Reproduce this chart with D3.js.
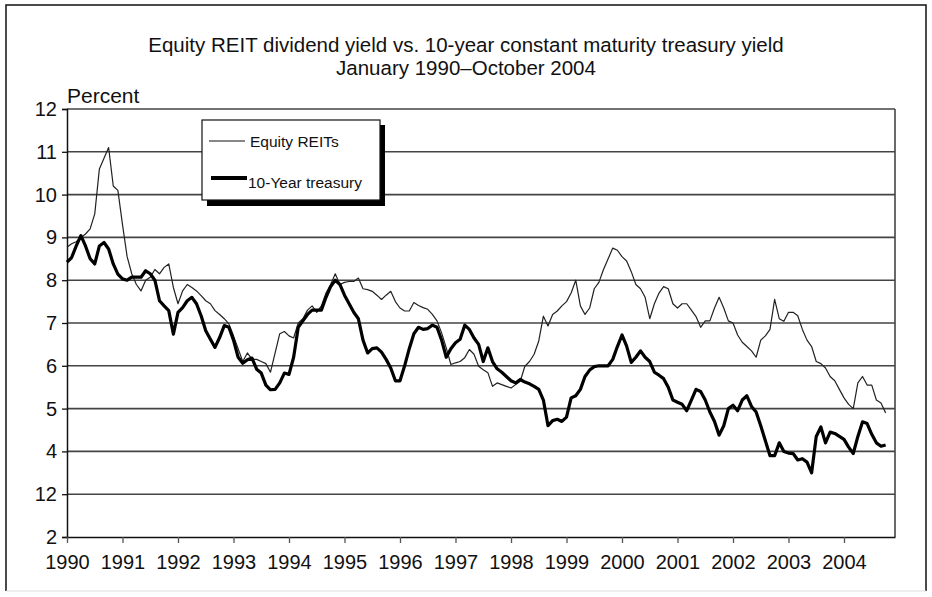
<!DOCTYPE html>
<html>
<head>
<meta charset="utf-8">
<script src="https://cdn.jsdelivr.net/npm/d3@7"></script>
<style>
  body { margin: 0; background: #fff; }
  svg { display: block; font-family: "Liberation Sans", Arial, sans-serif; }
</style>
</head>
<body>
<script>
// monthly values, Jan 1990 - Oct 2004
const startYear = 1990;

const reitYield = [
  8.77, 8.85, 8.9, 9.0, 9.08, 9.2, 9.55, 10.6, 10.85, 11.1, 10.2, 10.1,
  9.3, 8.55, 8.15, 7.9, 7.75, 8.0, 8.07, 8.25, 8.15, 8.3, 8.38, 7.83,
  7.45, 7.75, 7.9, 7.83, 7.75, 7.64, 7.52, 7.45, 7.29, 7.2, 7.1, 6.98,
  6.7, 6.4, 6.1, 6.3, 6.15, 6.15, 6.1, 6.05, 5.85, 6.3, 6.75, 6.8,
  6.7, 6.65, 7.0, 7.1, 7.3, 7.4, 7.25, 7.4, 7.7, 7.9, 8.15, 7.9,
  7.95, 7.97, 7.97, 8.05, 7.8, 7.78, 7.74, 7.65, 7.55, 7.65, 7.74, 7.5,
  7.35, 7.28, 7.28, 7.48, 7.41, 7.36, 7.32, 7.2, 7.05, 6.77, 6.42, 6.03,
  6.07, 6.1, 6.19, 6.38, 6.27, 5.99, 5.91, 5.84, 5.52, 5.6, 5.56, 5.52,
  5.48, 5.56, 5.64, 5.99, 6.1, 6.27, 6.58, 7.16, 6.93, 7.2, 7.28, 7.4,
  7.5, 7.7, 8.0, 7.4, 7.2, 7.35, 7.8, 7.95, 8.25, 8.5, 8.75, 8.7,
  8.55, 8.45, 8.2, 7.9, 7.8, 7.6, 7.1, 7.45, 7.7, 7.85, 7.8, 7.45,
  7.35, 7.45, 7.45, 7.3, 7.15, 6.9, 7.05, 7.05, 7.35, 7.6, 7.35, 7.05,
  7.0, 6.72, 6.55, 6.45, 6.35, 6.2, 6.6, 6.7, 6.85, 7.55, 7.1, 7.04,
  7.25, 7.25, 7.17, 6.85, 6.6, 6.45, 6.1, 6.05, 5.95, 5.75, 5.65, 5.45,
  5.25, 5.1, 5.0, 5.6, 5.75, 5.55, 5.55, 5.2, 5.13, 4.9
];

const treasuryYield = [
  8.42, 8.53, 8.8, 9.04, 8.8, 8.5, 8.38, 8.8, 8.88, 8.73, 8.38, 8.14,
  8.03, 8.0, 8.07, 8.07, 8.07, 8.22, 8.15, 8.0, 7.52, 7.4, 7.29, 6.74,
  7.25, 7.36, 7.52, 7.6, 7.45, 7.17, 6.82, 6.62, 6.43, 6.66, 6.94, 6.9,
  6.6, 6.2, 6.06, 6.14, 6.18, 5.92, 5.83, 5.55, 5.44, 5.45, 5.6, 5.83,
  5.8, 6.2, 6.9, 7.05, 7.2, 7.3, 7.3, 7.3, 7.6, 7.85, 8.0, 7.9,
  7.65, 7.45, 7.25, 7.1, 6.6, 6.3, 6.4, 6.42, 6.32, 6.15, 5.95, 5.65,
  5.65, 6.0, 6.4, 6.75, 6.9, 6.85, 6.87, 6.95, 6.9, 6.6, 6.2, 6.4,
  6.54, 6.62, 6.95, 6.85, 6.65, 6.5, 6.1, 6.42, 6.1, 5.93, 5.85, 5.75,
  5.65, 5.6, 5.68, 5.62, 5.58, 5.52, 5.45, 5.2, 4.6, 4.72, 4.75, 4.7,
  4.8, 5.25, 5.3, 5.45, 5.75, 5.9, 5.98, 6.0, 6.0, 6.0, 6.15, 6.45,
  6.72, 6.46, 6.08, 6.2, 6.35, 6.2, 6.1, 5.85, 5.78, 5.7, 5.5, 5.2,
  5.15, 5.1, 4.95, 5.2, 5.45, 5.4, 5.2, 4.92, 4.7, 4.38, 4.6, 5.0,
  5.08, 4.95, 5.2, 5.3, 5.05, 4.92, 4.6, 4.25, 3.9, 3.9, 4.2, 4.0,
  3.96, 3.95, 3.8, 3.83, 3.75, 3.5, 4.35, 4.57, 4.2, 4.45, 4.42, 4.35,
  4.28, 4.1, 3.95, 4.35, 4.69, 4.65, 4.4, 4.2, 4.12, 4.15
];

const yearTicks = [1990, 1991, 1992, 1993, 1994, 1995, 1996, 1997, 1998, 1999, 2000, 2001, 2002, 2003, 2004];
const yTickValues = [2, 3, 4, 5, 6, 7, 8, 9, 10, 11, 12];
const yTickLabels = ["2", "12", "4", "5", "6", "7", "8", "9", "10", "11", "12"];
const seriesNames = ["Equity REITs", "10-Year treasury"];

const W = 932, H = 597;
const plotLeft = 67, plotRight = 895, plotTop = 109, plotBottom = 537;

const svg = d3.select("body").append("svg")
  .attr("width", W)
  .attr("height", H);

svg.append("rect").attr("width", W).attr("height", H).attr("fill", "#fff");

// outer frame
svg.append("path")
  .attr("d", `M6,591 L6,5 L926,5 L926,591`)
  .attr("fill", "none").attr("stroke", "#111").attr("stroke-width", 1.5);
svg.append("line")
  .attr("x1", 6).attr("x2", 926).attr("y1", 591).attr("y2", 591)
  .attr("stroke", "#ddd").attr("stroke-width", 1);

const x = d3.scaleLinear().domain([1990, 1990 + (plotRight - plotLeft) / 55.5]).range([plotLeft, plotRight]);
const y = d3.scaleLinear().domain([2, 12]).range([plotBottom, plotTop]);

// title
const title = svg.append("text")
  .attr("text-anchor", "middle")
  .attr("font-size", 20.5)
  .attr("fill", "#111");
title.append("tspan").attr("x", 466).attr("y", 52)
  .text("Equity REIT dividend yield vs. 10-year constant maturity treasury yield");
title.append("tspan").attr("x", 466).attr("y", 75)
  .text("January 1990\u2013October 2004");

svg.append("text")
  .attr("x", 67).attr("y", 103)
  .attr("font-size", 21)
  .attr("fill", "#111")
  .text("Percent");

// gridlines
svg.append("g")
  .selectAll("line")
  .data(yTickValues.filter(d => d > 2))
  .join("line")
  .attr("x1", plotLeft).attr("x2", plotRight)
  .attr("y1", d => y(d)).attr("y2", d => y(d))
  .attr("stroke", "#444").attr("stroke-width", 1.6);

// right border of plot
svg.append("line")
  .attr("x1", plotRight).attr("x2", plotRight).attr("y1", plotTop).attr("y2", plotBottom)
  .attr("stroke", "#444").attr("stroke-width", 1.6);

// axes
const yAxis = svg.append("g")
  .attr("transform", `translate(${plotLeft},0)`)
  .call(d3.axisLeft(y).tickValues(yTickValues).tickFormat((d, i) => yTickLabels[i]).tickSize(5).tickPadding(5));
yAxis.select(".domain").attr("stroke", "#111").attr("stroke-width", 1.5);
yAxis.selectAll(".tick line").attr("stroke", "#111").attr("stroke-width", 1.3);
yAxis.selectAll("text").attr("font-size", 20).attr("font-family", "Liberation Sans, Arial, sans-serif").attr("fill", "#111");

const xAxis = svg.append("g")
  .attr("transform", `translate(0,${plotBottom})`)
  .call(d3.axisBottom(x).tickValues(yearTicks).tickFormat(d3.format("d")).tickSize(6).tickSizeOuter(0).tickPadding(12));
xAxis.select(".domain").attr("stroke", "#111").attr("stroke-width", 1.5);
xAxis.selectAll(".tick line").attr("stroke", "#555").attr("stroke-width", 1.3);
xAxis.selectAll("text").attr("font-size", 20).attr("font-family", "Liberation Sans, Arial, sans-serif").attr("fill", "#111");

// lines
const line = d3.line()
  .x((d, i) => x(startYear + i / 12))
  .y(d => y(d));

svg.append("path")
  .datum(reitYield)
  .attr("d", line)
  .attr("fill", "none")
  .attr("stroke", "#222")
  .attr("stroke-width", 1.2)
  .attr("stroke-linejoin", "round");

svg.append("path")
  .datum(treasuryYield)
  .attr("d", line)
  .attr("fill", "none")
  .attr("stroke", "#000")
  .attr("stroke-width", 3.2)
  .attr("stroke-linejoin", "round");

// legend
const legend = svg.append("g");
legend.append("rect")
  .attr("x", 207).attr("y", 125).attr("width", 178).attr("height", 81)
  .attr("fill", "#000");
legend.append("rect")
  .attr("x", 202).attr("y", 120).attr("width", 178).attr("height", 80)
  .attr("fill", "#fff").attr("stroke", "#111").attr("stroke-width", 1.2);

legend.append("line")
  .attr("x1", 209).attr("x2", 245).attr("y1", 141).attr("y2", 141)
  .attr("stroke", "#111").attr("stroke-width", 1.2);
legend.append("text")
  .attr("x", 250).attr("y", 147)
  .attr("font-size", 15.5).attr("fill", "#111")
  .text(seriesNames[0]);

legend.append("line")
  .attr("x1", 211).attr("x2", 247).attr("y1", 178).attr("y2", 178)
  .attr("stroke", "#000").attr("stroke-width", 4);
legend.append("text")
  .attr("x", 248).attr("y", 188)
  .attr("font-size", 15.5).attr("fill", "#111")
  .text(seriesNames[1]);
</script>
</body>
</html>
